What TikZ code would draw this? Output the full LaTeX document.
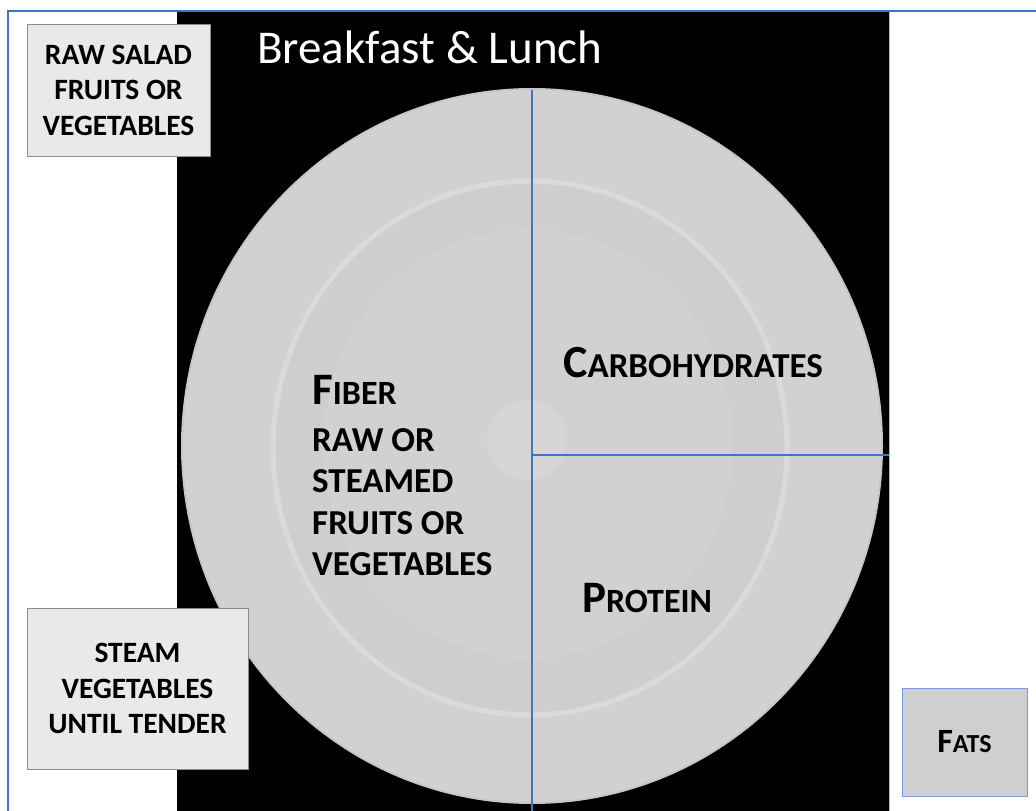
\documentclass[tikz,border=0pt]{standalone}
\usepackage{fontspec}
\setmainfont{Carlito}
\definecolor{frameblue}{HTML}{4472C4}
\definecolor{platerim}{HTML}{D1D1D1}
\definecolor{platewell}{HTML}{CECECE}
\definecolor{plateinner}{HTML}{D1D1D1}
\definecolor{platering}{HTML}{DADADA}
\definecolor{platespot}{HTML}{D6D6D6}
\definecolor{boxfill}{HTML}{E9E9E9}
\definecolor{boxedge}{HTML}{8C8C8C}
\definecolor{fatsfill}{HTML}{CFCFCF}
\definecolor{fatsedge}{HTML}{7A9BE0}
% small caps built from two sizes: first letter large, rest smaller
\newcommand{\capsmall}[4]{{\fontsize{#1}{#1}\selectfont #3}{\fontsize{#2}{#2}\selectfont #4}}
\tikzset{
  label/.style={font=\bfseries, text=black, inner sep=0pt, anchor=base west},
  fiberline/.style={label, font=\bfseries\fontsize{35}{35}\selectfont},
  tipbox/.style={draw=boxedge, line width=1pt, fill=boxfill, align=center,
    font=\bfseries\fontsize{29.5}{35.5}\selectfont, inner sep=0pt},
  divider/.style={draw=frameblue, line width=1.3pt},
}
\begin{document}
\begin{tikzpicture}[x=1pt,y=-1pt]
\useasboundingbox (0,0) rectangle (1036,811);
\fill[white] (0,0) rectangle (1036,811);
% black panel behind the plate
\fill[black] (177,11) rectangle (889,811);
\draw[gray!55, line width=1pt] (889,11) -- (889,811);
% page frame
\draw[frameblue, line width=1.5pt] (8,811) -- (8,11) -- (1036,11);

% the plate
\fill[gray!45] (532,446) ellipse [x radius=351, y radius=358];
\fill[platerim] (532,446) ellipse [x radius=349, y radius=356];
\fill[platewell] (530,448) ellipse [x radius=254, y radius=264];
\draw[platering, line width=5pt] (530,448) ellipse [x radius=257, y radius=267];
\fill[plateinner] (528,444) ellipse [x radius=205, y radius=215];
\fill[platespot] (527,440) circle [radius=40];

% title
\node[font=\fontsize{47}{47}\selectfont, text=white, inner sep=0pt, anchor=base west] (title) at (257,63) {Breakfast \& Lunch};

% dividing lines
\coordinate (ctop) at (532,90);
\coordinate (cbot) at (532,811);
\coordinate (cmid) at (532,455);
\coordinate (cright) at (889,455);
\draw[divider] (ctop) -- (cbot);
\draw[divider] (cmid) -- (cright);

% plate sections
\node[label] (carbs) at (563,377) {\capsmall{46}{35}{C}{ARBOHYDRATES}};
\node[label] (protein) at (582,612) {\capsmall{45}{34}{P}{ROTEIN}};
\node[label] (fiber) at (312,404) {\capsmall{45}{34}{F}{IBER}};
\node[fiberline] (fiber1) at (312,451) {RAW OR};
\node[fiberline] (fiber2) at (312,492) {STEAMED};
\node[fiberline] (fiber3) at (312,534) {FRUITS OR};
\node[fiberline] (fiber4) at (312,575) {VEGETABLES};

% side notes
\node[tipbox, minimum width=183pt, minimum height=132pt] (raw) at (118.5,90) {RAW SALAD\\FRUITS OR\\VEGETABLES};
\node[tipbox, minimum width=221pt, minimum height=161pt] (steam) at (137.5,688.5) {STEAM\\VEGETABLES\\UNTIL TENDER};
\node[tipbox, draw=fatsedge, fill=fatsfill, minimum width=125pt, minimum height=108pt, font=\bfseries] (fats) at (964.5,742) {\capsmall{34}{26}{F}{ATS}};
\end{tikzpicture}
\end{document}
